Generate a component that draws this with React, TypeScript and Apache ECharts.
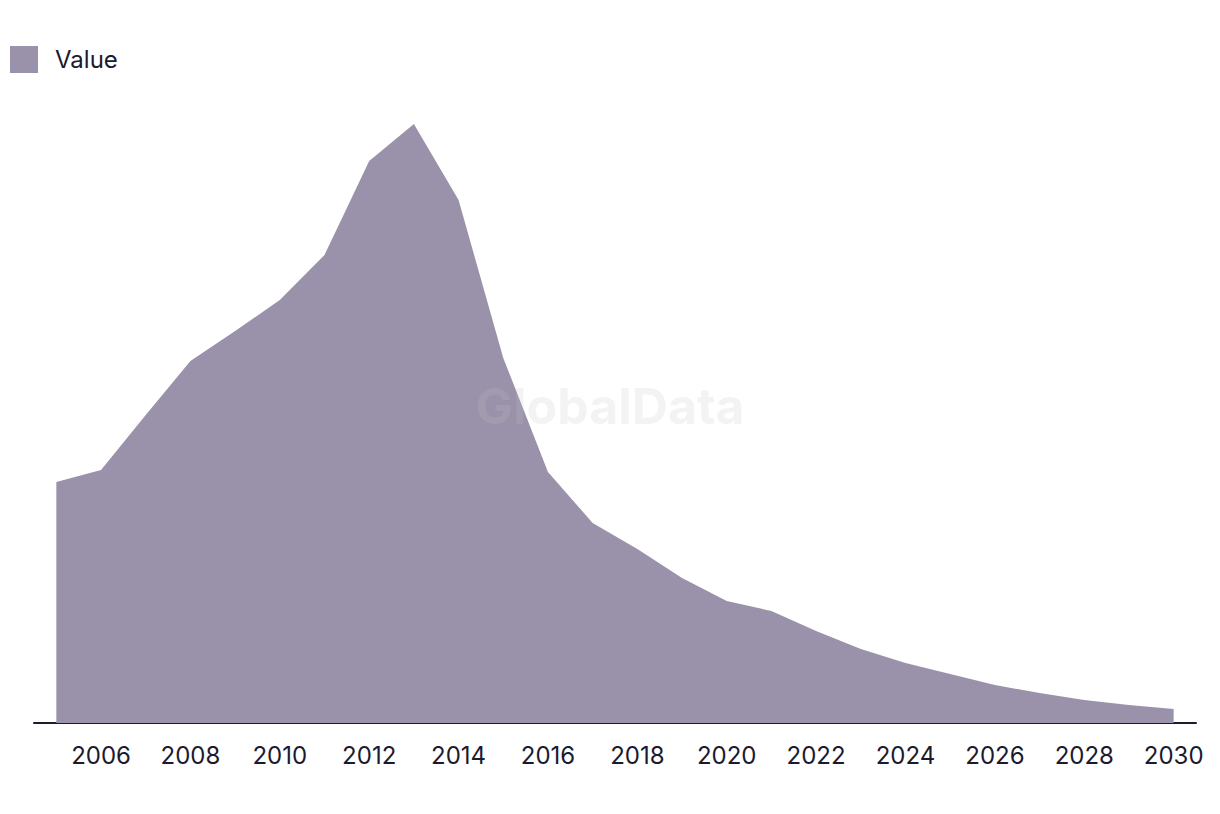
import React, { useEffect, useRef } from "react";
import * as echarts from "echarts";

const years: string[] = [
  "2005", "2006", "2007", "2008", "2009", "2010", "2011", "2012", "2013",
  "2014", "2015", "2016", "2017", "2018", "2019", "2020", "2021", "2022",
  "2023", "2024", "2025", "2026", "2027", "2028", "2029", "2030",
];

const values: number[] = [
  24.1, 25.3, 30.8, 36.2, 39.2, 42.3, 46.8, 56.2, 59.9,
  52.3, 36.5, 25.1, 20.0, 17.4, 14.5, 12.2, 11.2, 9.2,
  7.4, 6.0, 4.9, 3.8, 3.0, 2.3, 1.8, 1.4,
];

const seriesName = "Value";
const watermark = "GlobalData";

const AREA_COLOR = "#9a91aa";
const TEXT_COLOR = "#1b1a2e";

export default function App() {
  const ref = useRef<HTMLDivElement>(null);

  useEffect(() => {
    if (!ref.current) return;
    const chart = echarts.init(ref.current, undefined, { renderer: "svg" });
    chart.setOption({
      animation: false,
      backgroundColor: "#ffffff",
      textStyle: { fontFamily: "Inter, 'Noto Sans', sans-serif" },
      legend: {
        left: 10,
        top: 46,
        padding: 0,
        itemWidth: 28,
        itemHeight: 27,
        icon: "rect",
        data: [seriesName],
        textStyle: {
          fontSize: 24,
          color: TEXT_COLOR,
          fontFamily: "Inter, sans-serif",
          padding: [0, 0, 2, 12],
        },
      },
      graphic: [
        {
          type: "text",
          left: "center",
          top: 381,
          z: 100,
          silent: true,
          style: {
            text: watermark,
            fontSize: 50,
            fontWeight: "bold",
            fontFamily: "Inter, sans-serif",
            fill: "rgba(197,197,197,0.2)",
          },
        },
      ],
      grid: { left: 34, right: 24, top: 100, bottom: 91, containLabel: false },
      xAxis: {
        type: "category",
        data: years,
        boundaryGap: true,
        axisLine: { show: true, lineStyle: { color: TEXT_COLOR, width: 2 } },
        axisTick: { show: false },
        axisLabel: {
          interval: (idx: number) => idx % 2 === 1,
          color: TEXT_COLOR,
          fontSize: 24,
          margin: 20,
          fontFamily: "Inter, sans-serif",
        },
        splitLine: { show: false },
      },
      yAxis: {
        type: "value",
        min: 0,
        max: 62.3,
        show: false,
        splitLine: { show: false },
      },
      series: [
        {
          name: seriesName,
          type: "line",
          data: values,
          z: 2,
          symbol: "none",
          lineStyle: { width: 0, color: AREA_COLOR },
          itemStyle: { color: AREA_COLOR },
          areaStyle: { color: AREA_COLOR, opacity: 1 },
        },
      ],
    });
    return () => chart.dispose();
  }, []);

  return (
    <div
      ref={ref}
      style={{ position: "fixed", left: 0, top: 0, width: 1220, height: 814 }}
    />
  );
}
